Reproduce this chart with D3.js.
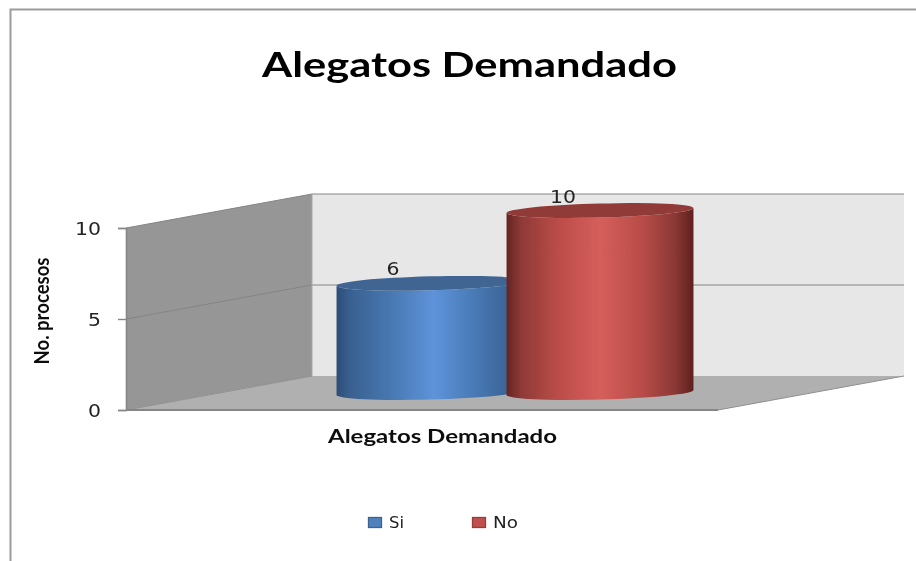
<!DOCTYPE html>
<html>
<head>
<meta charset="utf-8">
<script src="https://d3js.org/d3.v7.min.js"></script>
<style>
  html, body { margin: 0; padding: 0; background: #fff; overflow: hidden; }
  svg { font-family: Lato, sans-serif; }
</style>
</head>
<body>
<svg id="chart" width="916" height="561"></svg>
<script>
// data
const chartTitle = "Alegatos Demandado";
const yAxisLabel = "No. procesos";
const categoryLabel = "Alegatos Demandado";
const seriesNames = ["Si", "No"];
const seriesValues = [6, 10];
const yTicks = [0, 5, 10];

const svg = d3.select("#chart");
const defs = svg.append("defs");

defs.append("filter").attr("id", "soft")
    .attr("filterUnits", "userSpaceOnUse")
    .attr("x", 0).attr("y", 0).attr("width", 916).attr("height", 561)
  .append("feGaussianBlur").attr("stdDeviation", 0.55);

// wall geometry
const frontLeft = 126, frontRight = 718;
const depthX = 186, depthY = -34;
const y = d3.scaleLinear().domain([0, 10]).range([410, 228]);
const x = d3.scalePoint().domain(seriesNames).range([430, 600]);
const color = d3.scaleOrdinal().domain(seriesNames).range(["#4f81bd", "#c0504d"]);

const rx = 93.5, ry = 7, midDepth = -17.5, tilt = -1.5;

const gradientStops = {
  "Si": [[0, "#2c4d77"], [0.07, "#39608f"], [0.28, "#4777b0"], [0.52, "#5e93da"], [0.72, "#4a7cb8"], [0.92, "#3a6395"], [1, "#2c4d77"]],
  "No": [[0, "#652522"], [0.08, "#8f3a37"], [0.28, "#bc4d49"], [0.5, "#d55e5b"], [0.72, "#b94d49"], [0.9, "#8b3835"], [1, "#5f201e"]]
};
const topColors = { "Si": "#3f6593", "No": "#903a37" };

seriesNames.forEach(function(name, i) {
  const g = defs.append("linearGradient").attr("id", "cyl" + i);
  gradientStops[name].forEach(function(s) {
    g.append("stop").attr("offset", s[0]).attr("stop-color", s[1]);
  });
});

const root = svg.append("g").attr("filter", "url(#soft)");

// frame of the pasted chart
root.append("path")
    .attr("d", "M10.5,561V9.5H916")
    .attr("fill", "none").attr("stroke", "#9c9c9c").attr("stroke-width", 2);

// back wall, side wall, floor
const backX0 = frontLeft + depthX, backX1 = frontRight + depthX;
const line = d3.line();

root.append("path")
    .attr("d", line([[backX0, y(10) + depthY], [backX1, y(10) + depthY], [backX1, y(0) + depthY], [backX0, y(0) + depthY]]) + "Z")
    .attr("fill", "#e7e7e7");
root.append("path")
    .attr("d", line([[frontLeft, y(10)], [backX0, y(10) + depthY], [backX0, y(0) + depthY], [frontLeft, y(0)]]) + "Z")
    .attr("fill", "#969696");
root.append("path")
    .attr("d", line([[frontLeft, y(0)], [backX0, y(0) + depthY], [backX1, y(0) + depthY], [frontRight, y(0)]]) + "Z")
    .attr("fill", "#b0b0b0");

// gridlines wrap round the walls, faint on the side wall
yTicks.slice(1).forEach(function(t) {
  root.append("path")
      .attr("d", line([[frontLeft, y(t)], [backX0, y(t) + depthY]]))
      .attr("fill", "none").attr("stroke", "#858585").attr("stroke-width", 1);
  root.append("path")
      .attr("d", line([[backX0, y(t) + depthY], [backX1, y(t) + depthY]]))
      .attr("fill", "none").attr("stroke", "#858585").attr("stroke-width", 1);
});
root.append("path")
    .attr("d", line([[backX0, y(10) + depthY], [backX0, y(0) + depthY]]))
    .attr("fill", "none").attr("stroke", "#a8a8a8").attr("stroke-width", 1);
root.append("path")
    .attr("d", line([[frontLeft, y(0)], [backX0, y(0) + depthY]]))
    .attr("fill", "none").attr("stroke", "#8f8f8f").attr("stroke-width", 1);
root.append("path")
    .attr("d", line([[frontRight, y(0)], [backX1, y(0) + depthY]]))
    .attr("fill", "none").attr("stroke", "#8f8f8f").attr("stroke-width", 1);
root.append("path")
    .attr("d", line([[frontLeft, y(0)], [frontRight, y(0)]]))
    .attr("fill", "none").attr("stroke", "#868686").attr("stroke-width", 2);

// y axis
const axis = root.append("g")
    .attr("transform", "translate(" + frontLeft + ",0)")
    .call(d3.axisLeft(y).tickValues(yTicks).tickSize(8).tickPadding(17));
axis.select(".domain").attr("stroke", "#868686").attr("stroke-width", 1.6);
axis.selectAll(".tick line").attr("stroke", "#868686").attr("stroke-width", 1.4);
axis.selectAll(".tick text")
    .attr("font-family", "DejaVu Sans")
    .attr("font-size", 17)
    .attr("fill", "#222")
    .attr("dy", "0.36em")
    .each(function(d) { d3.select(this).attr("textLength", d < 10 ? 13 : 26).attr("lengthAdjust", "spacingAndGlyphs"); });

// cylinders
function cylinderPath(cx, topY, bottomY) {
  const a = tilt * Math.PI / 180;
  const ex = rx * Math.cos(a), ey = rx * Math.sin(a);
  return "M" + (cx - ex) + "," + (topY - ey) +
    "A" + rx + "," + ry + " " + tilt + " 0 0 " + (cx + ex) + "," + (topY + ey) +
    "L" + (cx + ex) + "," + (bottomY + ey) +
    "A" + rx + "," + ry + " " + tilt + " 0 1 " + (cx - ex) + "," + (bottomY - ey) + "Z";
}
function capPath(cx, topY) {
  const a = tilt * Math.PI / 180;
  const ex = rx * Math.cos(a), ey = rx * Math.sin(a);
  return "M" + (cx - ex) + "," + (topY - ey) +
    "A" + rx + "," + ry + " " + tilt + " 0 0 " + (cx + ex) + "," + (topY + ey) +
    "A" + rx + "," + ry + " " + tilt + " 0 0 " + (cx - ex) + "," + (topY - ey) + "Z";
}

seriesNames.forEach(function(name, i) {
  const v = seriesValues[i];
  const cx = x(name);
  root.append("path")
      .attr("d", cylinderPath(cx, y(v) + midDepth, y(0) + midDepth))
      .attr("fill", "url(#cyl" + i + ")");
  root.append("path")
      .attr("d", capPath(cx, y(v) + midDepth))
      .attr("fill", topColors[name]);
  root.append("text")
      .attr("x", cx - 37)
      .attr("y", y(v) + midDepth - 8)
      .attr("text-anchor", "middle")
      .attr("font-family", "DejaVu Sans")
      .attr("font-size", 18)
      .attr("fill", "#222")
      .attr("textLength", v < 10 ? 13 : 26).attr("lengthAdjust", "spacingAndGlyphs")
      .text(v);
});

// title and axis titles
root.append("text")
    .attr("x", 469.5).attr("y", 77)
    .attr("text-anchor", "middle")
    .attr("font-weight", 700).attr("font-size", 35)
    .attr("fill", "#000")
    .attr("textLength", 415).attr("lengthAdjust", "spacingAndGlyphs")
    .text(chartTitle);

root.append("text")
    .attr("transform", "translate(49,311) rotate(-90)")
    .attr("text-anchor", "middle")
    .attr("font-weight", 700).attr("font-size", 20)
    .attr("fill", "#111")
    .attr("textLength", 107).attr("lengthAdjust", "spacingAndGlyphs")
    .text(yAxisLabel);

root.append("text")
    .attr("x", 442.5).attr("y", 443)
    .attr("text-anchor", "middle")
    .attr("font-weight", 700).attr("font-size", 18)
    .attr("fill", "#111")
    .attr("textLength", 229).attr("lengthAdjust", "spacingAndGlyphs")
    .text(categoryLabel);

// legend
const legendX = d3.scalePoint().domain(seriesNames).range([368, 472]);
const legendWidths = { "Si": 15, "No": 25 };
seriesNames.forEach(function(name) {
  root.append("rect")
      .attr("x", legendX(name) + 0.5).attr("y", 517.5)
      .attr("width", 13).attr("height", 10)
      .attr("fill", color(name))
      .attr("stroke", d3.color(color(name)).darker(0.7)).attr("stroke-width", 1.3);
  root.append("text")
      .attr("x", legendX(name) + 21).attr("y", 528)
      .attr("font-family", "DejaVu Sans")
      .attr("font-size", 15)
      .attr("fill", "#222")
      .attr("textLength", legendWidths[name]).attr("lengthAdjust", "spacingAndGlyphs")
      .text(name);
});
</script>
</body>
</html>
